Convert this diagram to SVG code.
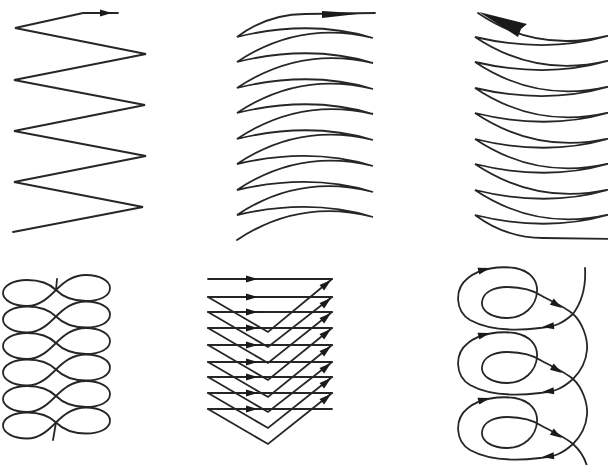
<svg xmlns="http://www.w3.org/2000/svg" width="608" height="465" viewBox="0 0 608 465">
<style>
.ln{fill:none;stroke:#262626;stroke-width:1.8;stroke-linejoin:miter;stroke-linecap:round}
.ah{fill:#1a1a1a;stroke:none}
</style>
<defs>
<path id="ah" d="M0 0 L-12 -3.6 L-12 3.6 Z"/>
</defs>
<rect width="608" height="465" fill="#ffffff"/>

<g id="zigzag">
<path class="ln" d="M13 232 L143 207 L14 182 L146 156 L14 131 L145 105 L14 80 L146 54 L15 28 L83 13 L118 13"/>
<use href="#ah" class="ah" transform="translate(112,13)"/>
</g>

<g id="arcs-up">
<path class="ln" d="M237 240 Q300 198 373 217 Q310 198 237 215 Q300 173 373 192 Q310 173 237 190 Q300 148 373 166 Q310 147 237 164 Q300 122 373 140 Q310 121 237 139 Q300 97 373 114 Q310 95 237 113 Q300 71 373 89 Q310 70 237 88 Q300 46 373 63 Q310 44 237 62 Q300 20 373 38 Q310 19 237 37 Q268 14 305 14 L375 13"/>
<polygon class="ah" points="322,11 322,18 362,13.5"/>
</g>

<g id="arcs-down">
<path class="ln" d="M478 13 Q538 54 611 35 Q548 54 475 37 Q538 79 611 60 Q548 79 475 62 Q538 104 611 86 Q548 105 475 88 Q538 130 611 112 Q548 131 475 113 Q538 155 611 138 Q548 157 475 139 Q538 181 611 163 Q548 182 475 164 Q538 206 611 189 Q548 208 475 190 Q538 232 611 214 Q548 233 475 215 Q506 238 543 238 L613 239"/>
<polygon class="ah" points="479,12 527,24 521,29 518,37"/>
</g>

<g id="figure-eights">
<path class="ln" d="M56 290 C63 283 72 275 86 275 C100 275 110 281 110 288 C110 296 100 301 86 301 C72 301 63 297 56 290 C49 283 40 280 27 280 C13 280 3 286 3 293 C3 300 13 306 27 306 C40 306 49 297 56 290 Z"/>
<path class="ln" d="M56 316.5 C63 309.5 72 301.5 86 301.5 C100 301.5 110 307.5 110 314.5 C110 322.5 100 327.5 86 327.5 C72 327.5 63 323.5 56 316.5 C49 309.5 40 306.5 27 306.5 C13 306.5 3 312.5 3 319.5 C3 326.5 13 332.5 27 332.5 C40 332.5 49 323.5 56 316.5 Z"/>
<path class="ln" d="M56 343 C63 336 72 328 86 328 C100 328 110 334 110 341 C110 349 100 354 86 354 C72 354 63 350 56 343 C49 336 40 333 27 333 C13 333 3 339 3 346 C3 353 13 359 27 359 C40 359 49 350 56 343 Z"/>
<path class="ln" d="M56 369.5 C63 362.5 72 354.5 86 354.5 C100 354.5 110 360.5 110 367.5 C110 375.5 100 380.5 86 380.5 C72 380.5 63 376.5 56 369.5 C49 362.5 40 359.5 27 359.5 C13 359.5 3 365.5 3 372.5 C3 379.5 13 385.5 27 385.5 C40 385.5 49 376.5 56 369.5 Z"/>
<path class="ln" d="M56 396 C63 389 72 381 86 381 C100 381 110 387 110 394 C110 402 100 407 86 407 C72 407 63 403 56 396 C49 389 40 386 27 386 C13 386 3 392 3 399 C3 406 13 412 27 412 C40 412 49 403 56 396 Z"/>
<path class="ln" d="M56 422.5 C63 415.5 72 407.5 86 407.5 C100 407.5 110 413.5 110 420.5 C110 428.5 100 433.5 86 433.5 C72 433.5 63 429.5 56 422.5 C49 415.5 40 412.5 27 412.5 C13 412.5 3 418.5 3 425.5 C3 432.5 13 438.5 27 438.5 C40 438.5 49 429.5 56 422.5 Z"/>
<path class="ln" d="M56 290 L57 279 M56 422.5 L53 440"/>
</g>

<g id="chevrons">
<path class="ln" d="M208 279 H332 M208 297 H332 M208 312 H332 M208 328 H332 M208 345 H332 M208 362 H332 M208 377 H332 M208 393 H332 M208 409 H332"/>
<path class="ln" d="M208 297 L268 332 L332 279 M208 312 L268 347 L332 297 M208 328 L268 363 L332 312 M208 345 L268 380 L332 328 M208 362 L268 397 L332 345 M208 377 L268 412 L332 362 M208 393 L268 428 L332 377 M208 409 L268 444 L332 393"/>
<use href="#ah" class="ah" transform="translate(258,279)"/>
<use href="#ah" class="ah" transform="translate(258,297)"/>
<use href="#ah" class="ah" transform="translate(258,312)"/>
<use href="#ah" class="ah" transform="translate(258,328)"/>
<use href="#ah" class="ah" transform="translate(258,345)"/>
<use href="#ah" class="ah" transform="translate(258,362)"/>
<use href="#ah" class="ah" transform="translate(258,377)"/>
<use href="#ah" class="ah" transform="translate(258,393)"/>
<use href="#ah" class="ah" transform="translate(258,409)"/>
<use href="#ah" class="ah" transform="translate(331,280) rotate(-40)"/>
<use href="#ah" class="ah" transform="translate(331,298) rotate(-40)"/>
<use href="#ah" class="ah" transform="translate(331,313) rotate(-40)"/>
<use href="#ah" class="ah" transform="translate(331,329) rotate(-40)"/>
<use href="#ah" class="ah" transform="translate(331,346) rotate(-40)"/>
<use href="#ah" class="ah" transform="translate(331,363) rotate(-40)"/>
<use href="#ah" class="ah" transform="translate(331,378) rotate(-40)"/>
<use href="#ah" class="ah" transform="translate(331,394) rotate(-40)"/>
</g>

<g id="spirals">
<path class="ln" d="M585 268 C586 285 582 302 573 314
C563 323 555 327 540 328 C515 331 488 330 470 320 C455 311 454 289 468 278 C480 268 500 266 515 268 C530 271 538 280 537 292 C536 306 524 318 507 318 C492 318 481 311 482 302 C483 292 494 287 507 287 C522 287 533 290 542 296 C553 302 565 307 573 314
C582 322 588 338 587 350 C586 362 581 371 573 379
C563 388 555 392 540 393 C515 396 488 395 470 385 C455 376 454 354 468 343 C480 333 500 331 515 333 C530 336 538 345 537 357 C536 371 524 383 507 383 C492 383 481 376 482 367 C483 357 494 352 507 352 C522 352 533 355 542 361 C553 367 565 372 573 379
C582 387 588 403 587 415 C586 427 581 436 573 444
C563 453 555 457 540 458 C515 461 488 460 470 450 C455 441 454 419 468 408 C480 398 500 396 515 398 C530 401 538 410 537 422 C536 436 524 448 507 448 C492 448 481 441 482 432 C483 422 494 417 507 417 C522 417 533 420 542 426 C553 432 565 437 573 444
C582 452 586 460 588 470"/>
<use href="#ah" class="ah" transform="translate(542,327) rotate(174)"/>
<use href="#ah" class="ah" transform="translate(490,268) rotate(-15)"/>
<use href="#ah" class="ah" transform="translate(562,308) rotate(32)"/>
<use href="#ah" class="ah" transform="translate(542,392) rotate(174)"/>
<use href="#ah" class="ah" transform="translate(490,333) rotate(-15)"/>
<use href="#ah" class="ah" transform="translate(562,373) rotate(32)"/>
<use href="#ah" class="ah" transform="translate(542,457) rotate(174)"/>
<use href="#ah" class="ah" transform="translate(490,398) rotate(-15)"/>
<use href="#ah" class="ah" transform="translate(562,438) rotate(32)"/>
</g>
</svg>
